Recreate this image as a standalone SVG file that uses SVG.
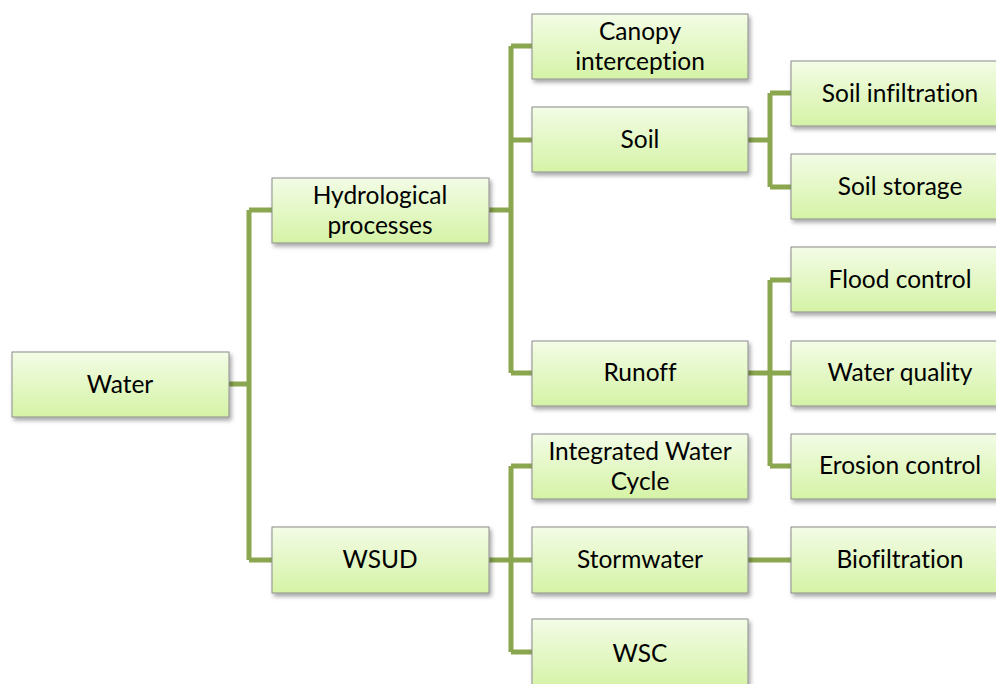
<svg xmlns="http://www.w3.org/2000/svg" width="996" height="684" viewBox="0 0 996 684">
<style>
.box{fill:url(#g);stroke:#8c8c8c;stroke-width:1;filter:url(#sh)}
.t{font-family:Lato,"Liberation Sans",sans-serif;font-size:24.5px;fill:#000;text-anchor:middle;font-variant-ligatures:none}
.c{fill:none;stroke:#8aa64f;stroke-width:5;stroke-linejoin:miter}
</style>
<defs>
<linearGradient id="g" x1="0" y1="0" x2="0" y2="1">
<stop offset="0" stop-color="#f3fce6"/>
<stop offset="1" stop-color="#d5f3a6"/>
</linearGradient>
<filter id="sh" x="-10%" y="-10%" width="130%" height="140%">
<feDropShadow dx="2" dy="3" stdDeviation="2" flood-color="#000" flood-opacity="0.35"/>
</filter>
</defs>
<rect width="996" height="684" fill="#fff"/>
<g id="connectors">
<path class="c" d="M229 384H249M249 210V560M249 210H272M249 560H272"/>
<path class="c" d="M489 210H511M511 46V373M511 46H532M511 140H532M511 373H532"/>
<path class="c" d="M489 560H511M511 466V652M511 466H532M511 560H532M511 652H532"/>
<path class="c" d="M748 140H770M770 93V187M770 93H791M770 187H791"/>
<path class="c" d="M748 373H770M770 280V466M770 280H791M770 373H791M770 466H791"/>
<path class="c" d="M748 560H791"/>
</g>
<g id="water"><rect class="box" x="12" y="352" width="217" height="65"/><text class="t" x="120" y="393">Water</text></g>
<g id="hydro"><rect class="box" x="272" y="178" width="217" height="65"/><text class="t" x="380" y="204">Hydrological</text><text class="t" x="380" y="234">processes</text></g>
<g id="wsud"><rect class="box" x="272" y="527" width="217" height="66"/><text class="t" x="380" y="568">WSUD</text></g>
<g id="canopy"><rect class="box" x="532" y="14" width="216" height="65"/><text class="t" x="640" y="40">Canopy</text><text class="t" x="640" y="70">interception</text></g>
<g id="soil"><rect class="box" x="532" y="107" width="216" height="65"/><text class="t" x="640" y="148">Soil</text></g>
<g id="runoff"><rect class="box" x="532" y="341" width="216" height="65"/><text class="t" x="640" y="381">Runoff</text></g>
<g id="iwc"><rect class="box" x="532" y="434" width="216" height="65"/><text class="t" x="640" y="460">Integrated Water</text><text class="t" x="640" y="490">Cycle</text></g>
<g id="storm"><rect class="box" x="532" y="527" width="216" height="66"/><text class="t" x="640" y="568">Stormwater</text></g>
<g id="wsc"><rect class="box" x="532" y="619" width="216" height="70"/><text class="t" x="640" y="662">WSC</text></g>
<g id="infil"><rect class="box" x="791" y="61" width="217" height="65"/><text class="t" x="900" y="102">Soil infiltration</text></g>
<g id="storage"><rect class="box" x="791" y="154" width="217" height="65"/><text class="t" x="900" y="195">Soil storage</text></g>
<g id="flood"><rect class="box" x="791" y="247" width="217" height="65"/><text class="t" x="900" y="288">Flood control</text></g>
<g id="quality"><rect class="box" x="791" y="341" width="217" height="65"/><text class="t" x="900" y="381">Water quality</text></g>
<g id="erosion"><rect class="box" x="791" y="434" width="217" height="65"/><text class="t" x="900" y="474">Erosion control</text></g>
<g id="biofil"><rect class="box" x="791" y="527" width="217" height="66"/><text class="t" x="900" y="568">Biofiltration</text></g>
</svg>
